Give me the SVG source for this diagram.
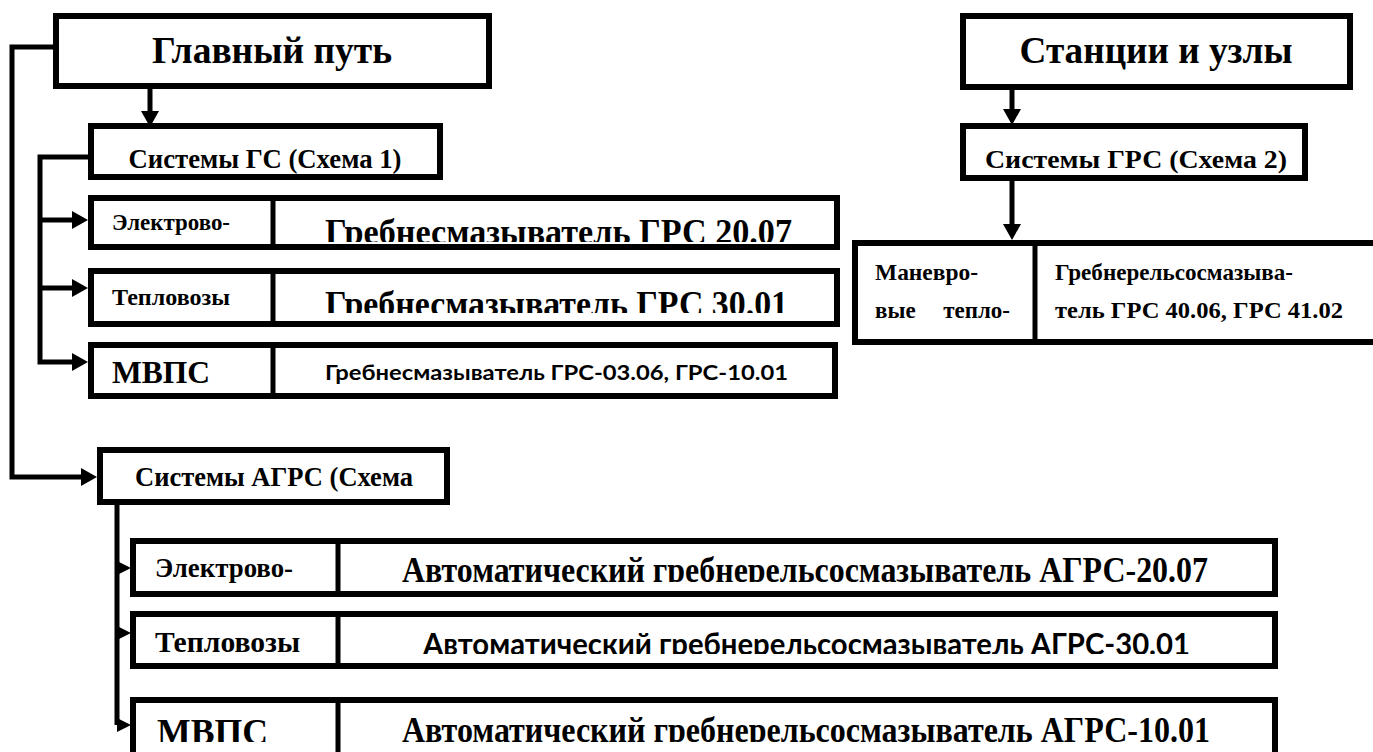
<svg xmlns="http://www.w3.org/2000/svg" width="1373" height="752" viewBox="0 0 1373 752">
<style>
.box{fill:#fff;stroke:#000;stroke-width:6}
.dv{stroke:#000;stroke-width:5}
.ln{fill:none;stroke:#000;stroke-width:5}
.t{font-family:"Liberation Serif","Times New Roman",serif;font-weight:bold;fill:#000}
.s{font-family:Lato,"Open Sans",sans-serif;font-weight:bold;fill:#000}
</style>
<defs>
<marker id="ah" markerUnits="userSpaceOnUse" markerWidth="18" markerHeight="20" refX="0" refY="9" orient="auto" overflow="visible"><path d="M0,0 L16,9 L0,18 z" fill="#000"/></marker>
<clipPath id="c1"><rect x="276" y="200" width="560" height="42"/></clipPath>
<clipPath id="c2"><rect x="276" y="273" width="560" height="40"/></clipPath>
<clipPath id="c3"><rect x="341" y="543" width="932" height="39"/></clipPath>
<clipPath id="c4"><rect x="341" y="616" width="932" height="38"/></clipPath>
<clipPath id="c5"><rect x="133" y="702" width="1140" height="40"/></clipPath>
</defs>
<g id="connectors">
<path class="ln" d="M150,86 V111" marker-end="url(#ah)"/>
<path class="ln" d="M56,47 H12 V477 H81" marker-end="url(#ah)"/>
<path class="ln" d="M91,157 H40 V362 H72" marker-end="url(#ah)"/>
<path class="ln" d="M40,220 H72" marker-end="url(#ah)"/>
<path class="ln" d="M40,288 H72" marker-end="url(#ah)"/>
<path class="ln" d="M1012,87 V109" marker-end="url(#ah)"/>
<path class="ln" d="M1012,179 V224" marker-end="url(#ah)"/>
<path class="ln" d="M117,503 V725"/>
<polygon points="117,561 131,568 117,575" fill="#000"/>
<polygon points="117,626 131,633 117,640" fill="#000"/>
<polygon points="117,718 131,725 117,732" fill="#000"/>
</g>
<g id="main">
<rect class="box" x="56" y="16" width="433" height="70"/>
<text class="t" x="272" y="63" font-size="38" text-anchor="middle" textLength="240" lengthAdjust="spacingAndGlyphs">Главный путь</text>
</g>
<g id="stations">
<rect class="box" x="963" y="16" width="387" height="71"/>
<text class="t" x="1156" y="63" font-size="38" text-anchor="middle" textLength="273" lengthAdjust="spacingAndGlyphs">Станции и узлы</text>
</g>
<g id="gs">
<rect class="box" x="91" y="126" width="349" height="51"/>
<text class="t" x="265" y="168" font-size="27" text-anchor="middle" textLength="273" lengthAdjust="spacingAndGlyphs">Системы ГС (Схема 1)</text>
</g>
<g id="grs">
<rect class="box" x="963" y="126" width="342" height="52"/>
<text class="t" x="1136" y="168" font-size="26" text-anchor="middle" textLength="302" lengthAdjust="spacingAndGlyphs">Системы ГРС (Схема 2)</text>
</g>
<g id="row-el">
<rect class="box" x="91" y="198" width="746" height="49"/>
<line class="dv" x1="273" y1="198" x2="273" y2="247"/>
<text class="t" x="112" y="230" font-size="23" textLength="118" lengthAdjust="spacingAndGlyphs">Электрово-</text>
<text class="t" x="325" y="244" font-size="36" textLength="467" lengthAdjust="spacingAndGlyphs" clip-path="url(#c1)">Гребнесмазыватель ГРС 20.07</text>
</g>
<g id="row-tep">
<rect class="box" x="91" y="271" width="746" height="53"/>
<line class="dv" x1="273" y1="271" x2="273" y2="324"/>
<text class="t" x="112" y="305" font-size="24" textLength="118" lengthAdjust="spacingAndGlyphs">Тепловозы</text>
<text class="t" x="325" y="316" font-size="36" textLength="463" lengthAdjust="spacingAndGlyphs" clip-path="url(#c2)">Гребнесмазыватель ГРС 30.01</text>
</g>
<g id="row-mvps">
<rect class="box" x="91" y="345" width="744" height="51"/>
<line class="dv" x1="273" y1="345" x2="273" y2="396"/>
<text class="t" x="112" y="383" font-size="31" textLength="98" lengthAdjust="spacingAndGlyphs">МВПС</text>
<text class="s" x="325" y="380" font-size="20" textLength="463" lengthAdjust="spacingAndGlyphs">Гребнесмазыватель ГРС-03.06, ГРС-10.01</text>
</g>
<g id="shunting">
<rect class="box" x="855" y="243" width="540" height="99"/>
<line class="dv" x1="1035" y1="243" x2="1035" y2="342"/>
<text class="t" x="875" y="280" font-size="23" textLength="103" lengthAdjust="spacingAndGlyphs">Маневро-</text>
<text class="t" x="875" y="318" font-size="23">вые</text>
<text class="t" x="1010" y="318" font-size="23" text-anchor="end">тепло-</text>
<text class="t" x="1055" y="280" font-size="23" textLength="238" lengthAdjust="spacingAndGlyphs">Гребнерельсосмазыва-</text>
<text class="t" x="1055" y="318" font-size="23" textLength="288" lengthAdjust="spacingAndGlyphs">тель ГРС 40.06, ГРС 41.02</text>
</g>
<g id="agrs">
<rect class="box" x="100" y="450" width="347" height="52"/>
<text class="t" x="135" y="486" font-size="27" textLength="278" lengthAdjust="spacingAndGlyphs">Системы АГРС (Схема</text>
</g>
<g id="arow-el">
<rect class="box" x="133" y="541" width="1142" height="53"/>
<line class="dv" x1="338" y1="541" x2="338" y2="594"/>
<text class="t" x="155" y="577" font-size="27" textLength="138" lengthAdjust="spacingAndGlyphs">Электрово-</text>
<text class="t" x="402" y="582" font-size="36" textLength="806" lengthAdjust="spacingAndGlyphs" clip-path="url(#c3)">Автоматический гребнерельсосмазыватель АГРС-20.07</text>
</g>
<g id="arow-tep">
<rect class="box" x="133" y="614" width="1142" height="52"/>
<line class="dv" x1="338" y1="614" x2="338" y2="666"/>
<text class="t" x="155" y="652" font-size="29" textLength="145" lengthAdjust="spacingAndGlyphs">Тепловозы</text>
<text class="s" x="423" y="655" font-size="30" textLength="767" lengthAdjust="spacingAndGlyphs" clip-path="url(#c4)">Автоматический гребнерельсосмазыватель АГРС-30.01</text>
</g>
<g id="arow-mvps">
<rect class="box" x="133" y="700" width="1142" height="56"/>
<line class="dv" x1="338" y1="700" x2="338" y2="756"/>
<text class="t" x="157" y="744" font-size="36" textLength="111" lengthAdjust="spacingAndGlyphs" clip-path="url(#c5)">МВПС</text>
<text class="t" x="402" y="742" font-size="36" textLength="808" lengthAdjust="spacingAndGlyphs" clip-path="url(#c5)">Автоматический гребнерельсосмазыватель АГРС-10.01</text>
</g>
</svg>
